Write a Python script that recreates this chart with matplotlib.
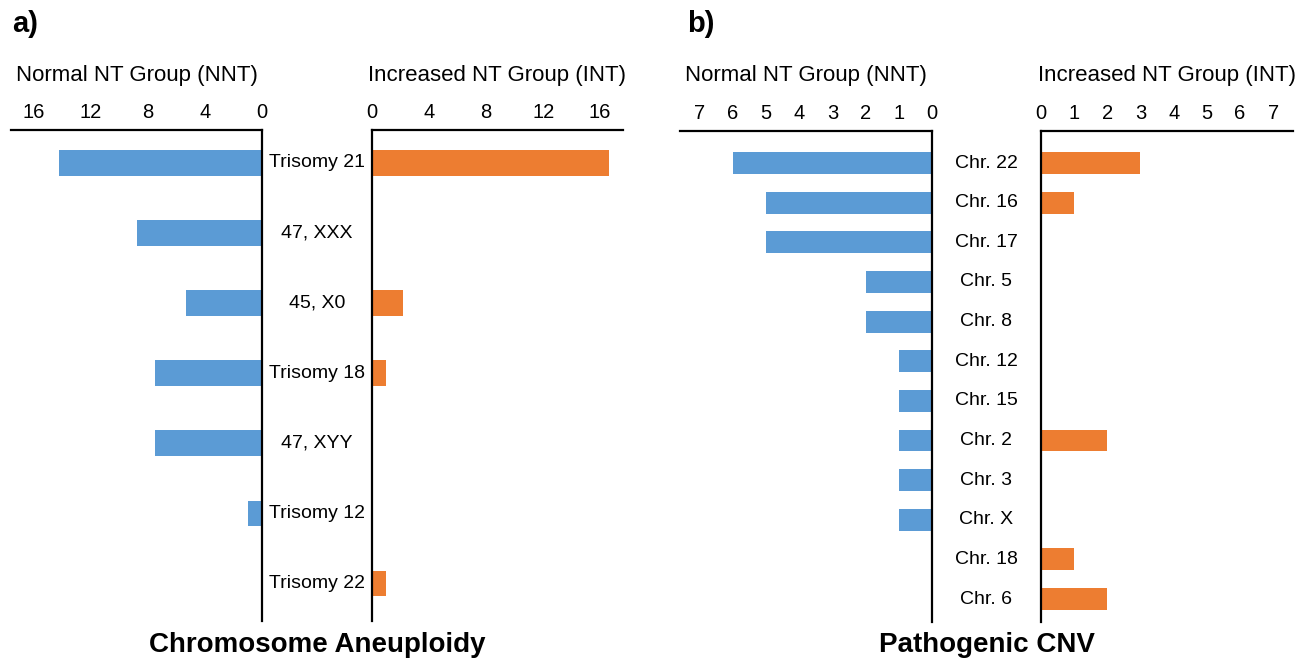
import matplotlib
matplotlib.use("Agg")
import matplotlib.pyplot as plt
from matplotlib.transforms import blended_transform_factory

plt.rcParams['font.family'] = ['Liberation Sans', 'DejaVu Sans']

# Panel a data
a_categories = ["Trisomy 21", "47, XXX", "45, X0", "Trisomy 18", "47, XYY", "Trisomy 12", "Trisomy 22"]
a_nnt = [14.2, 8.8, 5.3, 7.5, 7.5, 1.0, 0]
a_int = [16.6, 0, 2.2, 1.0, 0, 0, 1.0]
a_ticks = [0, 4, 8, 12, 16]

# Panel b data
b_categories = ["Chr. 22", "Chr. 16", "Chr. 17", "Chr. 5", "Chr. 8", "Chr. 12", "Chr. 15",
                "Chr. 2", "Chr. 3", "Chr. X", "Chr. 18", "Chr. 6"]
b_nnt = [6, 5, 5, 2, 2, 1, 1, 1, 1, 1, 0, 0]
b_int = [3, 1, 0, 0, 0, 0, 0, 2, 0, 0, 1, 2]
b_ticks = [0, 1, 2, 3, 4, 5, 6, 7]

BLUE = "#5B9BD5"
ORANGE = "#ED7D31"

W, H = 1314, 661
fig = plt.figure(figsize=(W / 100, H / 100), dpi=100)


def add_ax(x0, x1, y0, y1):
    return fig.add_axes([x0 / W, 1 - y1 / H, (x1 - x0) / W, (y1 - y0) / H])


def style(ax, side):
    for s in ax.spines.values():
        s.set_visible(False)
    ax.spines['top'].set_visible(True)
    ax.spines[side].set_visible(True)
    ax.spines['top'].set_linewidth(1.6)
    ax.spines[side].set_linewidth(1.6)
    ax.xaxis.tick_top()
    ax.tick_params(axis='x', length=0, labelsize=14.5, pad=6)
    ax.set_yticks([])


def panel(xl0, xl1, xr0, xr1, y0, y1, ylim, cats, left_vals, right_vals, ticks, xmax,
          bar_h, title, letter, letter_x):
    axl = add_ax(xl0, xl1, y0, y1)
    axr = add_ax(xr0, xr1, y0, y1)
    n = len(cats)
    ypos = list(range(n))
    axl.barh(ypos, left_vals, height=bar_h, color=BLUE)
    axr.barh(ypos, right_vals, height=bar_h, color=ORANGE)
    for ax in (axl, axr):
        ax.set_ylim(*ylim)
        ax.set_xticks(ticks)
        ax.set_xticklabels([str(t) for t in ticks])
    axl.set_xlim(xmax, 0)
    axr.set_xlim(0, xmax)
    style(axl, 'right')
    style(axr, 'left')
    # category labels centered in the gap
    gap_c = (xl1 + xr0) / 2
    tr = blended_transform_factory(axl.transAxes, axl.transData)
    xc = (gap_c - xl0) / (xl1 - xl0)
    for i, c in enumerate(cats):
        axl.text(xc, i, c, transform=tr, ha='center', va='center', fontsize=14,
                 clip_on=False)
    # group titles
    fig.text(((xl0 + xl1) / 2) / W, 1 - 75 / H, "Normal NT Group (NNT)",
             ha='center', va='center', fontsize=16)
    fig.text(((xr0 + xr1) / 2) / W, 1 - 75 / H, "Increased NT Group (INT)",
             ha='center', va='center', fontsize=16)
    fig.text(gap_c / W, 1 - 645 / H, title, ha='center', va='center',
             fontsize=20, fontweight='bold')
    fig.text(letter_x / W, 1 - 24 / H, letter, ha='left', va='center',
             fontsize=21, fontweight='bold')


panel(11, 262, 372, 623, 130, 621, (6.54, -0.47), a_categories, a_nnt, a_int, a_ticks, 17.6,
      0.36, "Chromosome Aneuploidy", "a)", 12)
panel(680, 932, 1041, 1293, 131, 622, (11.58, -0.81), b_categories, b_nnt, b_int, b_ticks, 7.6,
      0.55, "Pathogenic CNV", "b)", 687)

fig.savefig("out.png", dpi=100)
